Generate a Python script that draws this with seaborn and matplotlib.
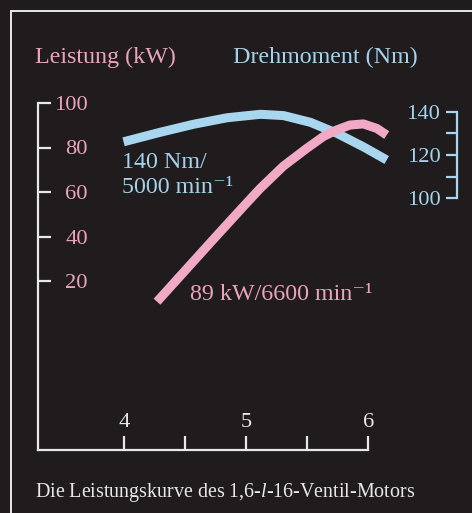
import matplotlib
matplotlib.use("Agg")
import matplotlib.pyplot as plt
import seaborn as sns
import pandas as pd

# ---- data ----
power_rpm = [4.268, 4.743, 4.975, 5.112, 5.303, 5.495, 5.631, 5.741, 5.850, 5.959, 6.069, 6.151]  # 1000 min^-1
power_kw = [10.7, 39.5, 53.4, 61.5, 71.6, 79.6, 84.9, 87.9, 90.1, 90.6, 88.6, 85.6]
torque_rpm = [3.994, 4.295, 4.568, 4.842, 5.115, 5.306, 5.525, 5.744, 5.959, 6.151]
torque_nm = [126.1, 130.5, 134.2, 137.2, 138.8, 138.2, 135.1, 130.0, 123.8, 117.7]

power_ticks = [20, 40, 60, 80, 100]
torque_ticks = [100, 110, 120, 130, 140]
torque_labels = ["100", "", "120", "", "140"]
rpm_ticks = [4, 4.5, 5, 5.5, 6]
rpm_labels = ["4", "", "5", "", "6"]

title_power = "Leistung (kW)"
title_torque = "Drehmoment (Nm)"
note_torque = "140 Nm/\n5000 min\u207b\u00b9"
note_power = "89 kW/6600 min\u207b\u00b9"
caption = "Die Leistungskurve des 1,6-$\\it{l}$-16-Ventil-Motors"

BG = "#201c1e"
PINK = "#f2a9c6"
PINK_T = "#eaa3bb"
BLUE = "#a9d6ef"
BLUE_T = "#a4d2ea"
WHITE = "#e8e8e8"

sns.set_style("dark")
plt.rcParams["font.family"] = ["Liberation Serif", "DejaVu Serif"]
plt.rcParams["mathtext.fontset"] = "custom"
plt.rcParams["mathtext.it"] = "Liberation Serif:italic"
plt.rcParams["mathtext.rm"] = "Liberation Serif"

W, H = 472, 513
FS = 17.3
TS = 16.2
fig = plt.figure(figsize=(W / 100, H / 100), dpi=100, facecolor=BG)

# axes box: x from px 38 to 368, y from px 103 (top) to 450 (bottom)
x0, x1, yt, yb = 38, 368.3, 103, 450
ax = fig.add_axes([x0 / W, (H - yb) / H, (x1 - x0) / W, (yb - yt) / H])
ax.set_facecolor("none")
ax.grid(False)

px_per_k = 122.0
ax.set_xlim(4 - (124.3 - x0) / px_per_k, 6.0)
# power: 0 at px 325.5, 2.225 px/kW
ax.set_ylim((325.5 - yb) / 2.225, (325.5 - yt) / 2.225)

df_p = pd.DataFrame({"rpm": power_rpm, "kW": power_kw})
df_t = pd.DataFrame({"rpm": torque_rpm, "Nm": torque_nm})

ax2 = ax.twinx()
ax2.set_facecolor("none")
ax2.grid(False)
# torque: 140 at px 111.7, 2.165 px/Nm
ax2.set_ylim(140 - (yb - 111.7) / 2.165, 140 - (yt - 111.7) / 2.165)

sns.lineplot(data=df_t, x="rpm", y="Nm", ax=ax2, color=BLUE, lw=6.5,
             solid_capstyle="butt", solid_joinstyle="round")
sns.lineplot(data=df_p, x="rpm", y="kW", ax=ax, color=PINK, lw=6.5,
             solid_capstyle="butt", solid_joinstyle="round")
for l in ax.lines + ax2.lines:
    l.set_clip_on(False)
ax.set_zorder(ax2.get_zorder() + 1)
ax.patch.set_visible(False)

# spines
for a in (ax, ax2):
    for s in a.spines.values():
        s.set_visible(False)
ax.spines["left"].set_visible(True)
ax.spines["left"].set_color(WHITE)
ax.spines["left"].set_linewidth(1.6)
ax.spines["left"].set_bounds(ax.get_ylim()[0], 100)
ax.spines["bottom"].set_visible(True)
ax.spines["bottom"].set_color(WHITE)
ax.spines["bottom"].set_linewidth(1.6)

ax2.spines["right"].set_visible(True)
ax2.spines["right"].set_color(BLUE)
ax2.spines["right"].set_linewidth(1.6)
ax2.spines["right"].set_position(("axes", (457 - x0) / (x1 - x0)))
ax2.spines["right"].set_bounds(100, 140)

# ticks
ax.set_yticks(power_ticks)
ax.set_yticklabels([str(v) for v in power_ticks])
ax.tick_params(axis="y", left=True, direction="in", length=9, width=1.6, color=WHITE,
               labelcolor=PINK_T, labelsize=TS, pad=-36)
for t in ax.get_yticklabels():
    t.set_horizontalalignment("right")

ax.set_xticks(rpm_ticks)
ax.set_xticklabels(rpm_labels)
ax.tick_params(axis="x", bottom=True, direction="in", length=10, width=1.6, color=WHITE,
               labelcolor=WHITE, labelsize=TS, pad=-13)
for t in ax.get_xticklabels():
    t.set_verticalalignment("bottom")

ax2.set_yticks(torque_ticks)
ax2.set_yticklabels(torque_labels)
ax2.tick_params(axis="y", right=True, direction="in", length=8, width=1.6, color=BLUE,
                labelcolor=BLUE_T, labelsize=TS, pad=-12)
for t in ax2.get_yticklabels():
    t.set_horizontalalignment("right")

ax.set_xlabel("")
ax.set_ylabel("")
ax2.set_ylabel("")

# frame lines (top and left) of the brochure panel
fig.add_artist(plt.Line2D([11 / W, 1.0], [1 - 11 / H, 1 - 11 / H], color=WHITE, lw=1.4))
fig.add_artist(plt.Line2D([11 / W, 11 / W], [0, 1 - 11 / H], color=WHITE, lw=1.4))

# titles and notes
fig.text(35 / W, 1 - 57 / H, title_power, color=PINK_T, fontsize=FS, va="center", ha="left")
fig.text(233 / W, 1 - 57 / H, title_torque, color=BLUE_T, fontsize=FS, va="center", ha="left")
fig.text(122 / W, 1 - 175 / H, note_torque, color=BLUE_T, fontsize=FS, va="center",
         ha="left", linespacing=1.25)
fig.text(190 / W, 1 - 295 / H, note_power, color=PINK_T, fontsize=FS, va="center", ha="left")
fig.text(35 / W, 1 - 493 / H, caption, color=WHITE, fontsize=14.4, va="center", ha="left")

fig.savefig("out.png", dpi=100, facecolor=BG)
